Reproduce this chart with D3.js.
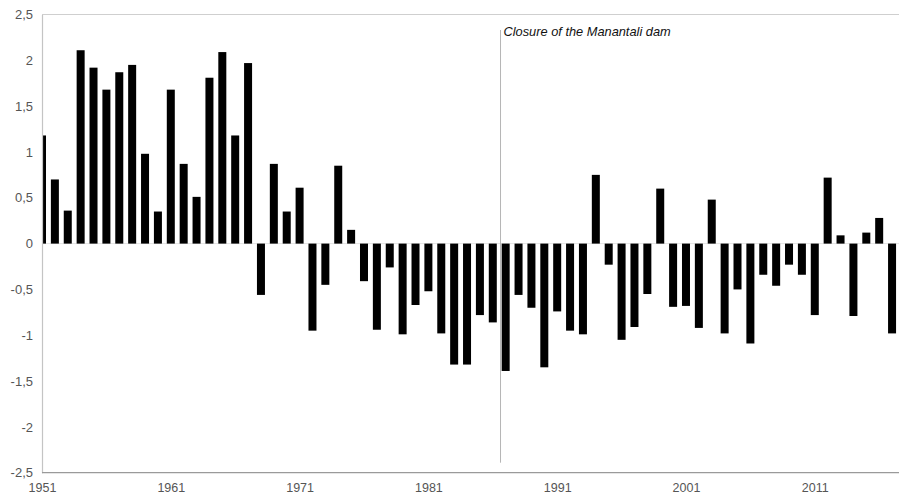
<!DOCTYPE html>
<html>
<head>
<meta charset="utf-8">
<script src="https://cdn.jsdelivr.net/npm/d3@7"></script>
<style>
  body { margin: 0; background: #fff; }
  svg { display: block; font-family: "Liberation Sans", Arial, sans-serif; }
</style>
</head>
<body>
<script>
// years 1951..2017
var years = d3.range(1951, 2018);
var values = [
  1.18, 0.70, 0.36, 2.11, 1.92, 1.68, 1.87, 1.95, 0.98, 0.35,
  1.68, 0.87, 0.51, 1.81, 2.09, 1.18, 1.97, -0.56, 0.87, 0.35,
  0.61, -0.95, -0.45, 0.85, 0.15, -0.41, -0.94, -0.26, -0.99, -0.67,
  -0.52, -0.98, -1.32, -1.32, -0.78, -0.86, -1.39, -0.56, -0.70, -1.35,
  -0.74, -0.95, -0.99, 0.75, -0.23, -1.05, -0.91, -0.55, 0.60, -0.69,
  -0.68, -0.92, 0.48, -0.98, -0.50, -1.09, -0.34, -0.46, -0.23, -0.34,
  -0.78, 0.72, 0.09, -0.79, 0.12, 0.28, -0.98
];
var yTicks = [-2.5, -2, -1.5, -1, -0.5, 0, 0.5, 1, 1.5, 2, 2.5];
var xTicks = [1951, 1961, 1971, 1981, 1991, 2001, 2011];
var markerYear = 1986.6;
var markerLabel = "Closure of the Manantali dam";

var W = 899, H = 501;
// plot box (window.top is read-only, so no bare "top" here)
var pL = 42, pR = 898.5, pT = 14.5, pB = 472.7;

var svg = d3.select("body").append("svg").attr("width", W).attr("height", H);

var x = d3.scaleLinear().domain([1951, 2017.5]).range([pL, pR]);
var y = d3.scaleLinear().domain([-2.5, 2.5]).range([pB, pT]);
var fmt = d => String(d).replace(".", ",");

svg.append("clipPath").attr("id", "plot")
  .append("rect").attr("x", pL).attr("y", pT).attr("width", pR - pL + 1).attr("height", pB - pT);

// top border + faint zero line
svg.append("line").attr("x1", pL).attr("x2", W).attr("y1", y(2.5)).attr("y2", y(2.5))
  .attr("stroke", "#cfcfcf").attr("stroke-width", 1.2);
svg.append("line").attr("x1", pL).attr("x2", W).attr("y1", y(0)).attr("y2", y(0))
  .attr("stroke", "#e4e4e4").attr("stroke-width", 1);

// bars
svg.append("g").attr("clip-path", "url(#plot)")
  .selectAll("rect").data(values).enter().append("rect")
  .attr("x", (d, i) => x(years[i]) - 4)
  .attr("width", 8)
  .attr("y", d => y(Math.max(0, d)))
  .attr("height", d => Math.abs(y(d) - y(0)))
  .attr("fill", "#000");

// y axis
var yAxis = svg.append("g").attr("transform", "translate(" + pL + ",0)")
  .call(d3.axisLeft(y).tickValues(yTicks).tickFormat(fmt).tickSize(0).tickPadding(9));
yAxis.select(".domain").attr("stroke", "#c4c4c4").attr("stroke-width", 1.2);
yAxis.selectAll("text").attr("fill", "#555").style("font-size", "13px");

// x axis
var xAxis = svg.append("g").attr("transform", "translate(0," + pB + ")")
  .call(d3.axisBottom(x).tickValues(xTicks).tickFormat(d3.format("d")).tickSize(0).tickPadding(10));
xAxis.select(".domain").remove();
svg.append("line").attr("x1", pL).attr("x2", W).attr("y1", pB).attr("y2", pB)
  .attr("stroke", "#9a9a9a").attr("stroke-width", 1.2);
xAxis.selectAll("text").attr("fill", "#555").style("font-size", "12.5px");

// dam closure marker
svg.append("line").attr("x1", x(markerYear)).attr("x2", x(markerYear))
  .attr("y1", 30).attr("y2", 462.7)
  .attr("stroke", "#b5b5b5").attr("stroke-width", 1);
svg.append("text").attr("x", x(markerYear) + 3).attr("y", 36)
  .attr("font-style", "italic").attr("font-size", "12.8px").attr("fill", "#111")
  .text(markerLabel);
</script>
</body>
</html>
